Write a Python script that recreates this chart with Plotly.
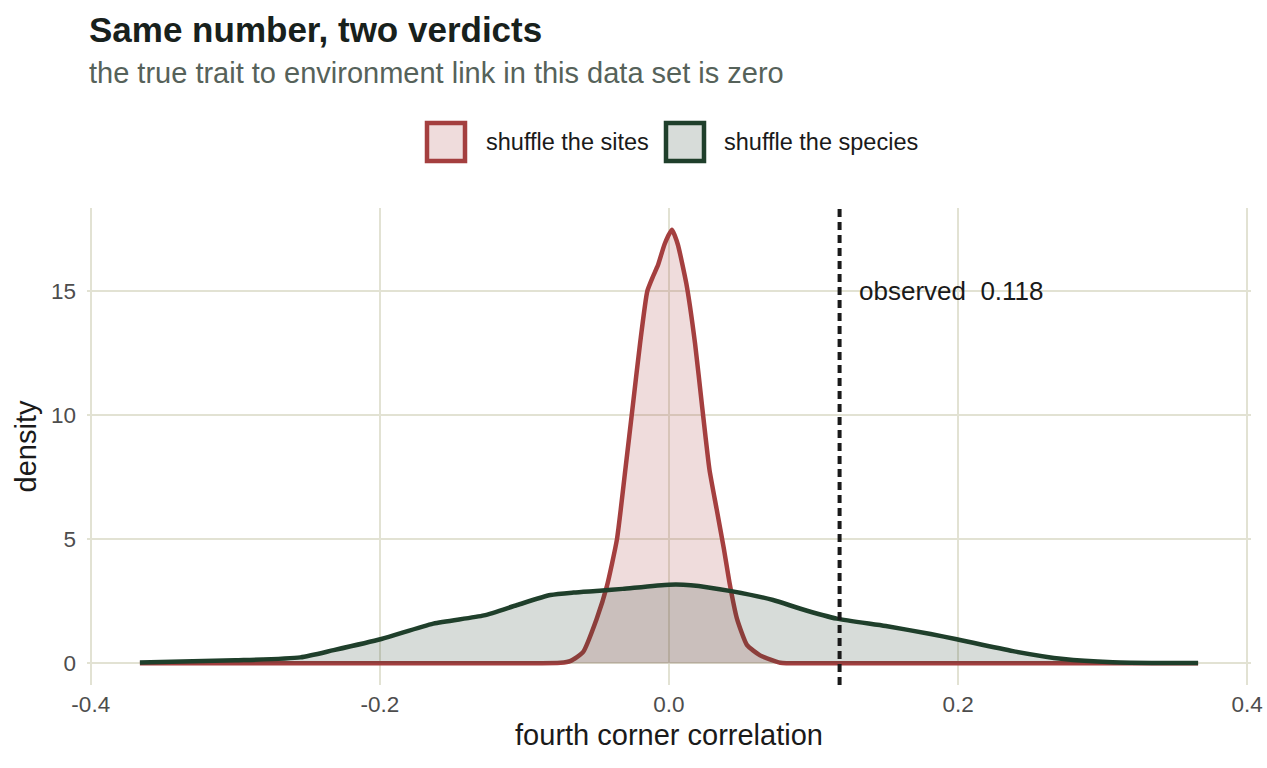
import plotly.graph_objects as go

# ---------------- data ----------------
sites_x = [-0.366, -0.2, -0.1, -0.075, -0.068, -0.0595, -0.050, -0.043, -0.036, -0.030,
           -0.025, -0.020, -0.015, -0.011, -0.0076, -0.003, 0.002, 0.006, 0.012, 0.018,
           0.023, 0.028, 0.033, 0.038, 0.042, 0.047, 0.054, 0.063, 0.077, 0.1, 0.2, 0.366]
sites_y = [0.0, 0.0, 0.0, 0.02, 0.1, 0.45, 1.8, 3.1, 5.0, 7.9,
           10.4, 12.9, 15.0, 15.6, 16.05, 16.9, 17.47, 16.9, 15.3, 12.9,
           10.3, 7.8, 6.2, 4.6, 3.2, 1.8, 0.73, 0.32, 0.02, 0.0, 0.0, 0.0]

species_x = [-0.366, -0.3, -0.255, -0.232, -0.199, -0.163, -0.128, -0.105, -0.082, -0.066,
             -0.048, -0.032, 0.0, 0.015, 0.044, 0.072, 0.091, 0.116, 0.15, 0.181,
             0.199, 0.238, 0.273, 0.307, 0.34, 0.366]
species_y = [0.03, 0.12, 0.24, 0.53, 0.98, 1.6, 1.93, 2.35, 2.75, 2.85,
             2.92, 3.0, 3.17, 3.15, 2.9, 2.55, 2.2, 1.8, 1.5, 1.18,
             0.97, 0.49, 0.17, 0.04, 0.01, 0.01]

observed = 0.118
series_names = ["shuffle the sites", "shuffle the species"]
x_ticks = [-0.4, -0.2, 0.0, 0.2, 0.4]
y_ticks = [0, 5, 10, 15]

# ---------------- styling ----------------
RED = "#A43F3F"
RED_FILL = "rgba(164,63,63,0.18)"
GREEN = "#1F3F2B"
GREEN_FILL = "rgba(31,63,43,0.18)"
GRID = "#E2E2D3"
FONT = "Liberation Sans, Arial, Helvetica, sans-serif"

W, H = 1267, 768
ML, MR, MT, MB = 87, 16, 208, 83
PW, PH = W - ML - MR, H - MT - MB


def px_x(p):
    return (p - ML) / PW


def px_y(p):
    return (H - MB - p) / PH


fig = go.Figure()
fig.add_trace(go.Scatter(x=sites_x, y=sites_y, mode="lines", name=series_names[0],
                         line=dict(color=RED, width=4.5, shape="spline", smoothing=0.5),
                         fill="tozeroy", fillcolor=RED_FILL, showlegend=False))
fig.add_trace(go.Scatter(x=species_x, y=species_y, mode="lines", name=series_names[1],
                         line=dict(color=GREEN, width=4.5, shape="spline", smoothing=0.6),
                         fill="tozeroy", fillcolor=GREEN_FILL, showlegend=False))

fig.add_shape(type="line", x0=observed, x1=observed, xref="x", y0=0, y1=1, yref="paper",
              line=dict(color="#1a1a1a", width=4, dash="8px,5px"), layer="above")

annotations = [
    dict(text=f"observed  {observed:.3f}", x=observed + 0.012, y=15, xref="x", yref="y",
         xanchor="left", yanchor="middle", showarrow=False,
         font=dict(size=26, color="#1a1a1a", family=FONT)),
    dict(text="<b>Same number, two verdicts</b>", x=px_x(87), y=px_y(30), xref="paper", yref="paper",
         xanchor="left", yanchor="middle", showarrow=False,
         font=dict(size=35, color="#18211C", family=FONT)),
    dict(text="the true trait to environment link in this data set is zero", x=px_x(87), y=px_y(73),
         xref="paper", yref="paper", xanchor="left", yanchor="middle", showarrow=False,
         font=dict(size=29, color="#56625A", family=FONT)),
]

# manual legend
legend_items = [(series_names[0], RED, RED_FILL, 425, 484), (series_names[1], GREEN, GREEN_FILL, 664, 722)]
for name, lc, fc, bx, tx in legend_items:
    fig.add_shape(type="rect", xref="paper", yref="paper",
                  x0=px_x(bx + 2), x1=px_x(bx + 40), y0=px_y(161), y1=px_y(123),
                  line=dict(color=lc, width=4.5), fillcolor=fc)
    annotations.append(dict(text=name, x=px_x(tx), y=px_y(142), xref="paper", yref="paper",
                            xanchor="left", yanchor="middle", showarrow=False,
                            font=dict(size=23.5, color="#1a1a1a", family=FONT)))

fig.update_layout(
    width=W, height=H,
    margin=dict(l=ML, r=MR, t=MT, b=MB, autoexpand=False),
    paper_bgcolor="white", plot_bgcolor="white",
    showlegend=False,
    annotations=annotations,
    font=dict(family=FONT),
    xaxis=dict(range=[-0.4026, 0.4026], tickvals=x_ticks,
               ticktext=[f"{v:.1f}" for v in x_ticks], automargin=False,
               showgrid=True, gridcolor=GRID, gridwidth=1.5, zeroline=False,
               showline=False, ticks="", ticklabelstandoff=3, ticklabeloverflow="allow",
               tickfont=dict(size=22.5, color="#4D4D4D", family=FONT),
               title=dict(text="fourth corner correlation", standoff=9,
                          font=dict(size=29, color="#1a1a1a", family=FONT))),
    yaxis=dict(range=[-0.874, 18.35], tickvals=y_ticks,
               ticktext=[str(v) for v in y_ticks], automargin=False,
               showgrid=True, gridcolor=GRID, gridwidth=1.5, zeroline=False,
               showline=False, ticks="", ticklabelstandoff=10,
               tickfont=dict(size=22.5, color="#4D4D4D", family=FONT),
               title=dict(text="density", standoff=5,
                          font=dict(size=29, color="#1a1a1a", family=FONT))),
)

fig.write_html("out.html")
